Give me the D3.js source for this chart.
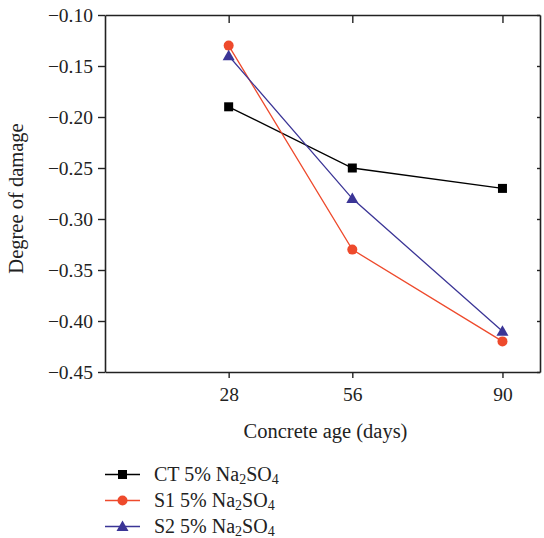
<!DOCTYPE html>
<head>
<meta charset="utf-8">
<title>Degree of damage</title>
<script src="https://d3js.org/d3.v7.min.js"></script>
<style>
body { margin: 0; background: #fff; }
text { font-family: "Liberation Serif", "DejaVu Serif", serif; fill: #222; }
</style>
</head>
<body>
<div id="my_dataviz"></div>
<script>

// data
const ages = [28, 56, 90];
const ctValues = [-0.19, -0.25, -0.27];
const s1Values = [-0.13, -0.33, -0.42];
const s2Values = [-0.14, -0.28, -0.41];
const yTicks = [-0.10, -0.15, -0.20, -0.25, -0.30, -0.35, -0.40, -0.45];

const series = [
  {name: "CT", values: ctValues, colour: "#000000", marker: "square"},
  {name: "S1", values: s1Values, colour: "#ee4a2c", marker: "circle"},
  {name: "S2", values: s2Values, colour: "#3b3596", marker: "triangle"}
];

var margin = {top: 15, right: 4, bottom: 166, left: 105},
    width = 544 - margin.left - margin.right,
    height = 538 - margin.top - margin.bottom;

var svg = d3.select("#my_dataviz")
  .append("svg")
    .attr("width", 544)
    .attr("height", 538)
  .append("g")
    .attr("transform", "translate(" + margin.left + "," + margin.top + ")");

var x = d3.scaleLinear().domain([0, 98.5]).range([0, width]);
var y = d3.scaleLinear().domain([-0.10, -0.45]).range([0, height]);

var fmt = function(d) { return d3.format(".2f")(d).replace("-", "\u2212"); };

// axes
var leftAxis = svg.append("g")
  .call(d3.axisLeft(y).tickValues(yTicks).tickFormat(fmt).tickSize(7).tickSizeOuter(0).tickPadding(5));
var bottomAxis = svg.append("g")
  .attr("transform", "translate(0," + height + ")")
  .call(d3.axisBottom(x).tickValues(ages).tickSize(6).tickSizeOuter(0).tickPadding(9));
var topAxis = svg.append("g")
  .call(d3.axisTop(x).tickValues(ages).tickSize(-8).tickSizeOuter(0).tickFormat(""));
var rightAxis = svg.append("g")
  .attr("transform", "translate(" + width + ",0)")
  .call(d3.axisRight(y).tickValues(yTicks).tickSize(-3).tickSizeOuter(0).tickFormat(""));

[leftAxis, bottomAxis, topAxis, rightAxis].forEach(function(g) {
  g.select(".domain").attr("stroke", "#222").attr("stroke-width", 1.6);
  g.selectAll(".tick line").attr("stroke", "#222").attr("stroke-width", 1.4);
  g.selectAll("text").style("font-family", "Liberation Serif, serif").style("font-size", "19.5px").attr("fill", "#222");
});

// axis titles
svg.append("text")
  .attr("text-anchor", "middle")
  .attr("x", width / 2 + 3)
  .attr("y", height + 66)
  .style("font-size", "20.5px")
  .text("Concrete age (days)");

svg.append("text")
  .attr("text-anchor", "middle")
  .attr("transform", "translate(" + (-82) + "," + (height / 2 + 5) + ")rotate(-90)")
  .style("font-size", "20.5px")
  .text("Degree of damage");

function drawMarker(g, type, colour) {
  if (type === "square") {
    g.append("rect").attr("x", -4.5).attr("y", -4.5).attr("width", 9).attr("height", 9).attr("fill", colour);
  } else if (type === "circle") {
    g.append("circle").attr("r", 5).attr("fill", colour);
  } else {
    g.append("path").attr("d", "M0,-6L6,4.5L-6,4.5Z").attr("fill", colour);
  }
}

var line = d3.line()
  .x(function(d) { return x(d.age); })
  .y(function(d) { return y(d.value); });

series.forEach(function(s) {
  var pts = ages.map(function(a, i) { return {age: a, value: s.values[i]}; });
  svg.append("path")
    .datum(pts)
    .attr("fill", "none")
    .attr("stroke", s.colour)
    .attr("stroke-width", 1.3)
    .attr("d", line);
  pts.forEach(function(p) {
    var g = svg.append("g").attr("transform", "translate(" + x(p.age) + "," + y(p.value) + ")");
    drawMarker(g, s.marker, s.colour);
  });
});

// legend
var legend = svg.append("g").attr("transform", "translate(0," + (height + 102.5) + ")");
series.forEach(function(s, i) {
  var row = legend.append("g").attr("transform", "translate(0," + (i * 26) + ")");
  row.append("line").attr("x1", 0).attr("x2", 35).attr("stroke", s.colour).attr("stroke-width", 1.3);
  var m = row.append("g").attr("transform", "translate(17.5,0)");
  drawMarker(m, s.marker, s.colour);
  var t = row.append("text").attr("x", 49).attr("y", 6).style("font-size", "20px");
  t.append("tspan").text(s.name + " 5% Na");
  t.append("tspan").attr("dy", 3).style("font-size", "14px").text("2");
  t.append("tspan").attr("dy", -3).text("SO");
  t.append("tspan").attr("dy", 3).style("font-size", "14px").text("4");
});

</script>
</body>
</html>
